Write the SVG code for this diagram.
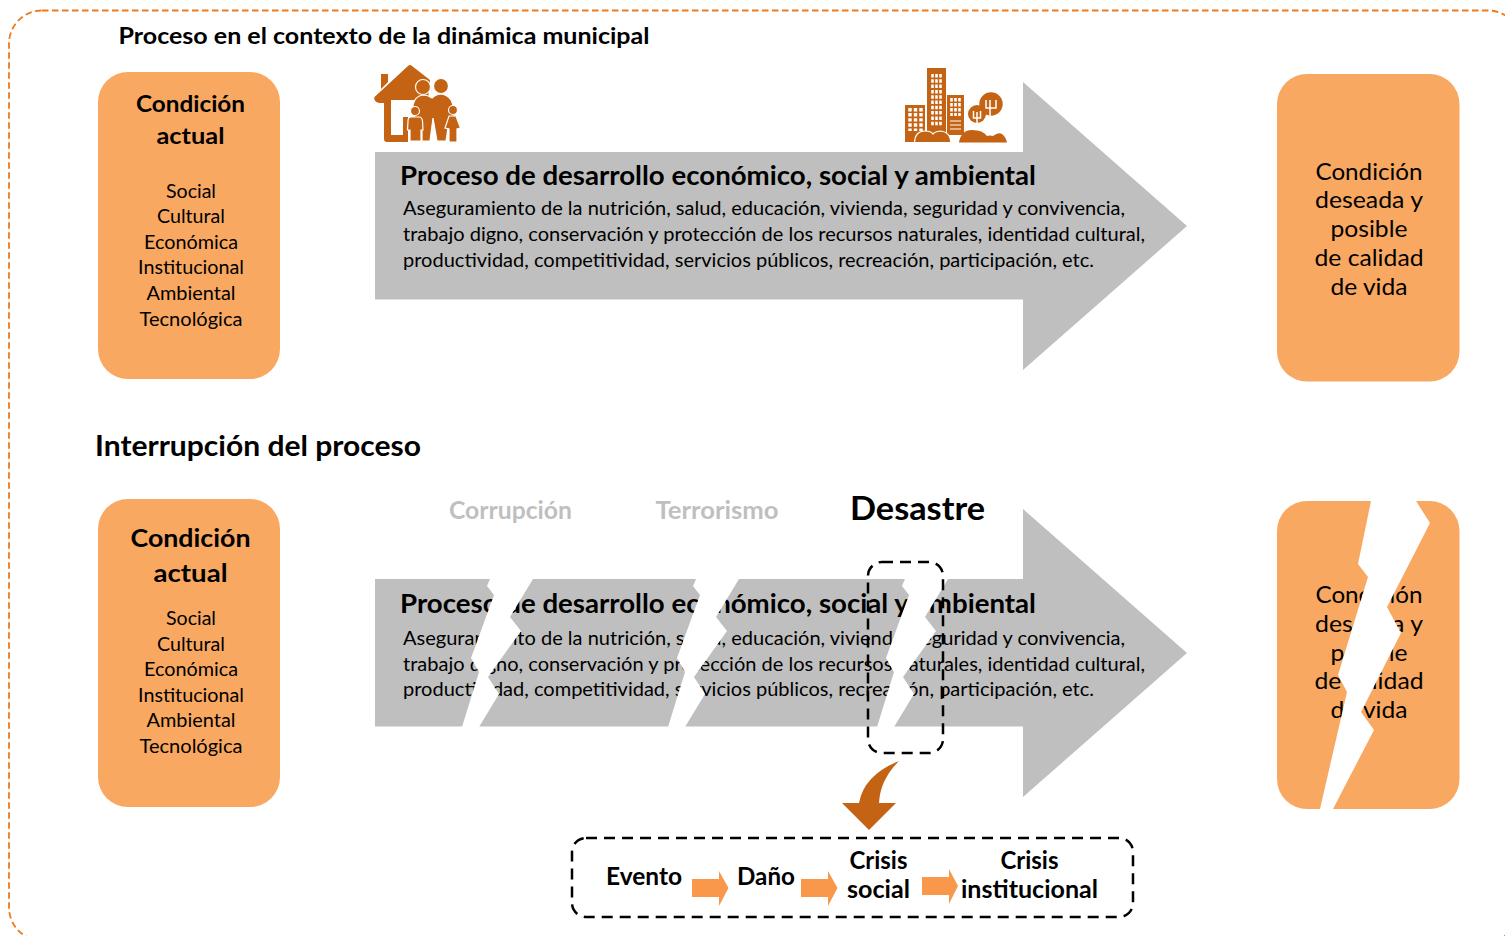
<svg xmlns="http://www.w3.org/2000/svg" width="1505" height="936" viewBox="0 0 1505 936">
<style>
text{font-family:"Lato","Open Sans","Liberation Sans",sans-serif;fill:#000;text-anchor:middle}
.h{font-weight:700}
.l{text-anchor:start}
.card{fill:#F9A861}
.gray{fill:#BFBFBF}
.w{fill:#fff}
.ic{fill:#C46314}
.ich{fill:#C46314;stroke:#fff;stroke-width:1.2}
.dash{fill:none;stroke:#000;stroke-width:2.5;stroke-dasharray:11 7}
.o{fill:#F9984A}
.s{font-size:19.5px}
.b{font-size:18.5px}
.c{font-size:23.5px}
</style>
<defs>
<path id="bolt" d="M490 579L487 586L494 595L471 658L479 672L462 727H479L499 694L488 677L521 631L510 617L533 579Z"/>
<polygon id="big" points="375,152 1023,152 1023,82 1187,226 1023,370 1023,299.500 375,299.500"/>
</defs>
<rect id="frame" x="9" y="10.500" width="1512" height="930" rx="33" fill="none" stroke="#EE7A1B" stroke-width="1.800" stroke-dasharray="6.500 3.500"/>
<text class="h" x="384" y="44" font-size="23" textLength="531" lengthAdjust="spacingAndGlyphs">Proceso en el contexto de la dinámica municipal</text>

<g id="card-actual-1">
<rect class="card" x="98" y="72" width="182" height="307" rx="30"/>
<text class="h" font-size="23.500" x="190.500" y="112" textLength="109" lengthAdjust="spacingAndGlyphs">Condición</text>
<text class="h" font-size="23.500" x="190.500" y="144" textLength="68" lengthAdjust="spacingAndGlyphs">actual</text>
<text class="s" x="191" y="198" textLength="50" lengthAdjust="spacingAndGlyphs">Social</text>
<text class="s" x="191" y="223" textLength="68" lengthAdjust="spacingAndGlyphs">Cultural</text>
<text class="s" x="191" y="249" textLength="94" lengthAdjust="spacingAndGlyphs">Económica</text>
<text class="s" x="191" y="274" textLength="106" lengthAdjust="spacingAndGlyphs">Institucional</text>
<text class="s" x="191" y="300" textLength="89" lengthAdjust="spacingAndGlyphs">Ambiental</text>
<text class="s" x="191" y="326" textLength="103" lengthAdjust="spacingAndGlyphs">Tecnológica</text>
</g>

<g id="arrow-proceso-1">
<use href="#big" class="gray"/>
<text class="h l" font-size="27" x="400" y="185" textLength="636" lengthAdjust="spacingAndGlyphs">Proceso de desarrollo económico, social y ambiental</text>
<text class="b l" x="403" y="215" textLength="722" lengthAdjust="spacingAndGlyphs">Aseguramiento de la nutrición, salud, educación, vivienda, seguridad y convivencia,</text>
<text class="b l" x="403" y="241" textLength="742" lengthAdjust="spacingAndGlyphs">trabajo digno, conservación y protección de los recursos naturales, identidad cultural,</text>
<text class="b l" x="403" y="267" textLength="691" lengthAdjust="spacingAndGlyphs">productividad, competitividad, servicios públicos, recreación, participación, etc.</text>
</g>

<g id="icon-familia">
<path class="ic" fill-rule="evenodd" d="M374.500 97L408 66Q410 64 412 66L430 80L428 100L418 100H391V135H403V117H408V142H387Q384 142 384 139V103L379 103Q373 101 374.500 97ZM381 74H388V82L381 89Z"/>
<circle class="ich" cx="423" cy="87" r="7.500"/>
<circle class="ich" cx="441" cy="86" r="7.500"/>
<path class="ich" d="M413 105Q415 96 423 95Q428 95 432 98Q436 94 442 94Q451 96 453 105L454 118L448 128L446 141H437L433 118L430 141H422V128L415 120Z"/>
<circle class="ich" cx="415" cy="111" r="4.500"/>
<path class="ich" d="M411 117H419Q422 117 422.500 121L423 130H421V141H410V130H407.500L408 121Q408 117 411 117Z"/>
<circle class="ich" cx="453" cy="110" r="4.500"/>
<path class="ich" d="M449 116H456L460.500 128L457 129V142H449V129L445 128Z"/>
</g>

<g id="icon-ciudad">
<rect class="ic" x="905" y="105" width="20" height="37"/>
<rect class="ic" x="927" y="68" width="19" height="66"/>
<rect class="ic" x="947" y="95" width="17" height="40"/>
<path d="M910 108V131M915.500 108V131M921 108V131" fill="none" stroke="#fff" stroke-width="3.400" stroke-dasharray="3.400 1.700"/>
<path d="M932.500 74V126M936.500 74V126M940.500 74V126" fill="none" stroke="#fff" stroke-width="2.600" stroke-dasharray="3.500 1.800"/>
<path d="M951.500 98V116M955.500 98V116M959.500 98V116" fill="none" stroke="#fff" stroke-width="2.600" stroke-dasharray="3.500 1.500"/>
<path d="M950 121H961M950 125H961M950 129H961" fill="none" stroke="#fff" stroke-width="1.200"/>
<path class="ich" d="M914.500 142.500Q915 131 925 131Q931 131 933 134Q936 131 941 131Q950 132 951 142.500Z"/>
<circle class="ic" cx="977" cy="114" r="9"/>
<circle class="ic" cx="991" cy="104" r="11.700"/>
<path d="M977 131V112M973.500 111V118H980.500V111M990 131V100M986 100V108H996V100" fill="none" stroke="#fff" stroke-width="1.500"/>
<path class="ic" d="M959 142.500Q961 130 972 130Q983 130 987 136Q990 135 993 136Q998 132 1002 134Q1006 137 1007 142.500Z"/>
</g>

<g id="card-deseada-1">
<rect class="card" x="1277" y="74" width="182.500" height="307.500" rx="30"/>
<text class="c" x="1369" y="180" textLength="107" lengthAdjust="spacingAndGlyphs">Condición</text>
<text class="c" x="1369" y="208" textLength="108" lengthAdjust="spacingAndGlyphs">deseada y</text>
<text class="c" x="1369" y="237" textLength="77" lengthAdjust="spacingAndGlyphs">posible</text>
<text class="c" x="1369" y="266" textLength="109" lengthAdjust="spacingAndGlyphs">de calidad</text>
<text class="c" x="1369" y="295" textLength="77" lengthAdjust="spacingAndGlyphs">de vida</text>
</g>

<text class="h l" font-size="28" x="95" y="456" textLength="326" lengthAdjust="spacingAndGlyphs">Interrupción del proceso</text>

<g id="card-actual-2">
<rect class="card" x="98" y="499" width="182" height="308" rx="30"/>
<text class="h" font-size="25.500" x="190.500" y="547" textLength="120" lengthAdjust="spacingAndGlyphs">Condición</text>
<text class="h" font-size="25.500" x="190.500" y="582" textLength="74" lengthAdjust="spacingAndGlyphs">actual</text>
<text class="s" x="191" y="625" textLength="50" lengthAdjust="spacingAndGlyphs">Social</text>
<text class="s" x="191" y="651" textLength="68" lengthAdjust="spacingAndGlyphs">Cultural</text>
<text class="s" x="191" y="676" textLength="94" lengthAdjust="spacingAndGlyphs">Económica</text>
<text class="s" x="191" y="702" textLength="106" lengthAdjust="spacingAndGlyphs">Institucional</text>
<text class="s" x="191" y="727" textLength="89" lengthAdjust="spacingAndGlyphs">Ambiental</text>
<text class="s" x="191" y="753" textLength="103" lengthAdjust="spacingAndGlyphs">Tecnológica</text>
</g>

<g id="arrow-proceso-2">
<use href="#big" class="gray" y="427"/>
<text class="h l" font-size="27" x="400" y="613" textLength="636" lengthAdjust="spacingAndGlyphs">Proceso de desarrollo económico, social y ambiental</text>
<text class="b l" x="403" y="645" textLength="722" lengthAdjust="spacingAndGlyphs">Aseguramiento de la nutrición, salud, educación, vivienda, seguridad y convivencia,</text>
<text class="b l" x="403" y="671" textLength="742" lengthAdjust="spacingAndGlyphs">trabajo digno, conservación y protección de los recursos naturales, identidad cultural,</text>
<text class="b l" x="403" y="696" textLength="691" lengthAdjust="spacingAndGlyphs">productividad, competitividad, servicios públicos, recreación, participación, etc.</text>
<use href="#bolt" class="w"/>
<use href="#bolt" class="w" x="206"/>
<use href="#bolt" class="w" x="415"/>
</g>

<text class="h" font-size="24" x="510.500" y="519" style="fill:#BFBFBF" textLength="123" lengthAdjust="spacingAndGlyphs">Corrupción</text>
<text class="h" font-size="24" x="717" y="519" style="fill:#BFBFBF" textLength="123" lengthAdjust="spacingAndGlyphs">Terrorismo</text>
<text class="h" font-size="33" x="917.500" y="520" textLength="135" lengthAdjust="spacingAndGlyphs">Desastre</text>

<g id="card-deseada-2">
<rect class="card" x="1277" y="501" width="182.500" height="308" rx="30"/>
<text class="c" x="1369" y="603" textLength="107" lengthAdjust="spacingAndGlyphs">Condición</text>
<text class="c" x="1369" y="632" textLength="108" lengthAdjust="spacingAndGlyphs">deseada y</text>
<text class="c" x="1369" y="661" textLength="77" lengthAdjust="spacingAndGlyphs">posible</text>
<text class="c" x="1369" y="689" textLength="109" lengthAdjust="spacingAndGlyphs">de calidad</text>
<text class="c" x="1369" y="718" textLength="77" lengthAdjust="spacingAndGlyphs">de vida</text>
<polygon class="w" points="1371,501 1358,564 1368,577 1338,675 1347,692 1320,809 1333,809 1374,730 1361,712 1401,633 1387,607 1430,523 1416,501"/>
</g>

<g id="connectors">
<rect class="dash" x="868" y="562" width="75" height="191" rx="14"/>
<path class="ic" d="M899 761Q864 775 859 803H842L869 830L896 803H879Q880 780 899 761Z"/>
<polygon class="o" points="692,879 719,879 719,871 728.500,888 719,906 719,897 692,897"/>
<polygon class="o" points="801,879 828,879 828,871 837.500,888 828,906 828,897 801,897"/>
<polygon class="o" points="922,877 949,877 949,869 958,886 949,904 949,895 922,895"/>
</g>

<g id="cadena">
<rect class="dash" x="572" y="838" width="561" height="79" rx="14"/>
<text class="h" font-size="24" x="644" y="885" textLength="76" lengthAdjust="spacingAndGlyphs">Evento</text>
<text class="h" font-size="24" x="766" y="885" textLength="58" lengthAdjust="spacingAndGlyphs">Daño</text>
<text class="h" font-size="24" x="878.500" y="869" textLength="58" lengthAdjust="spacingAndGlyphs">Crisis</text>
<text class="h" font-size="24" x="878.500" y="898" textLength="63" lengthAdjust="spacingAndGlyphs">social</text>
<text class="h" font-size="24" x="1029.500" y="869" textLength="58" lengthAdjust="spacingAndGlyphs">Crisis</text>
<text class="h" font-size="24" x="1029.500" y="898" textLength="137" lengthAdjust="spacingAndGlyphs">institucional</text>
</g>
</svg>
